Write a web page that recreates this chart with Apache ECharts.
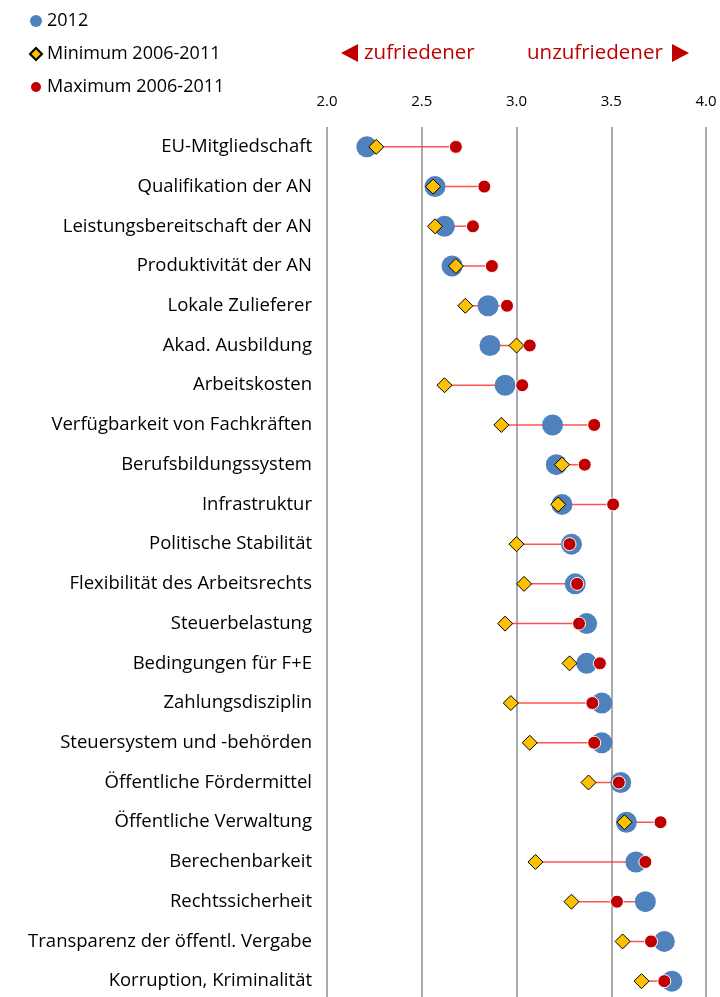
<!DOCTYPE html>
<html>
<head>
<meta charset="utf-8">
<script src="https://cdn.jsdelivr.net/npm/echarts@6/dist/echarts.min.js"></script>
<style>
  html, body { margin: 0; padding: 0; background: #fff; overflow: hidden; }
  #chart { width: 720px; height: 1001px; }
</style>
</head>
<body>
<div id="chart"></div>
<script>
// Kategorien, von oben nach unten
const categories = [
  "EU-Mitgliedschaft",
  "Qualifikation der AN",
  "Leistungsbereitschaft der AN",
  "Produktivität der AN",
  "Lokale Zulieferer",
  "Akad. Ausbildung",
  "Arbeitskosten",
  "Verfügbarkeit von Fachkräften",
  "Berufsbildungssystem",
  "Infrastruktur",
  "Politische Stabilität",
  "Flexibilität des Arbeitsrechts",
  "Steuerbelastung",
  "Bedingungen für F+E",
  "Zahlungsdisziplin",
  "Steuersystem und -behörden",
  "Öffentliche Fördermittel",
  "Öffentliche Verwaltung",
  "Berechenbarkeit",
  "Rechtssicherheit",
  "Transparenz der öffentl. Vergabe",
  "Korruption, Kriminalität"
]

const values2012 = [2.21, 2.57, 2.62, 2.66, 2.85, 2.86, 2.94, 3.19, 3.21, 3.24, 3.29, 3.31,
  3.37, 3.37, 3.45, 3.45, 3.55, 3.58, 3.63, 3.68, 3.78, 3.82]
const valuesMin = [2.26, 2.56, 2.57, 2.68, 2.73, 3.00, 2.62, 2.92, 3.24, 3.22, 3.00, 3.04,
  2.94, 3.28, 2.97, 3.07, 3.38, 3.57, 3.10, 3.29, 3.56, 3.66]
const valuesMax = [2.68, 2.83, 2.77, 2.87, 2.95, 3.07, 3.03, 3.41, 3.36, 3.51, 3.28, 3.32,
  3.33, 3.44, 3.40, 3.41, 3.54, 3.76, 3.68, 3.53, 3.71, 3.78]

const axisTicks = [2.0, 2.5, 3.0, 3.5, 4.0]

const FONT = "Open Sans"

// Verbindungslinie von kleinstem bis größtem Wert je Zeile
const spanData = categories.map((c, i) => {
  const vals = [values2012[i], valuesMin[i], valuesMax[i]]
  return [Math.min(...vals), Math.max(...vals), i]
})

const chart = echarts.init(document.getElementById("chart"), null, { renderer: "canvas" })

const option = {
  animation: false,
  textStyle: { fontFamily: FONT },
  grid: { left: 327, right: 14, top: 127, bottom: 0, containLabel: false },
  legend: {
    orient: "vertical",
    left: 24,
    top: 6,
    itemWidth: 12,
    itemHeight: 12,
    itemGap: 13,
    textStyle: { fontFamily: FONT, fontSize: 18, color: "#000", lineHeight: 20 },
    data: [
      { name: "2012", icon: "circle" },
      { name: "Minimum 2006-2011", icon: "diamond" },
      { name: "Maximum 2006-2011", icon: "circle" }
    ]
  },
  xAxis: {
    type: "value",
    position: "top",
    min: axisTicks[0],
    max: axisTicks[axisTicks.length - 1],
    interval: 0.5,
    axisLine: { show: false },
    axisTick: { show: false },
    axisLabel: {
      margin: 18,
      fontFamily: FONT,
      fontSize: 15,
      color: "#000",
      formatter: (v) => v.toFixed(1)
    },
    splitLine: { show: true, lineStyle: { color: "#8c8c8c", width: 1.5 } }
  },
  yAxis: {
    type: "category",
    inverse: true,
    data: categories,
    axisLine: { show: false },
    axisTick: { show: false },
    splitLine: { show: false },
    axisLabel: { margin: 15, fontFamily: FONT, fontSize: 18.5, color: "#000" }
  },
  graphic: [
    {
      type: "polygon",
      shape: { points: [[341, 53], [358, 44], [358, 62]] },
      style: { fill: "#c00000" }
    },
    {
      type: "text",
      left: 364,
      top: 43,
      style: { text: "zufriedener", fill: "#c00000", font: "20.5px " + FONT }
    },
    {
      type: "text",
      left: 527,
      top: 43,
      style: { text: "unzufriedener", fill: "#c00000", font: "20.5px " + FONT }
    },
    {
      type: "polygon",
      shape: { points: [[689, 53], [672, 44], [672, 62]] },
      style: { fill: "#c00000" }
    }
  ],
  series: [
    {
      type: "custom",
      name: "span",
      z: 1,
      silent: true,
      encode: { x: [0, 1], y: 2 },
      data: spanData,
      renderItem: (params, api) => {
        const a = api.coord([api.value(0), api.value(2)])
        const b = api.coord([api.value(1), api.value(2)])
        return {
          type: "line",
          shape: { x1: a[0], y1: a[1], x2: b[0], y2: b[1] },
          style: { stroke: "rgba(255,40,40,0.8)", lineWidth: 1.5 }
        }
      }
    },
    {
      type: "scatter",
      name: "2012",
      z: 2,
      symbol: "circle",
      symbolSize: 21,
      itemStyle: { color: "#4f81bd", opacity: 1 },
      data: categories.map((c, i) => [values2012[i], i])
    },
    {
      type: "scatter",
      name: "Maximum 2006-2011",
      z: 3,
      symbol: "circle",
      symbolSize: 13,
      itemStyle: { color: "#c00000", borderColor: "#fff", borderWidth: 1, opacity: 1 },
      data: categories.map((c, i) => [valuesMax[i], i])
    },
    {
      type: "scatter",
      name: "Minimum 2006-2011",
      z: 4,
      symbol: "diamond",
      symbolSize: 15,
      itemStyle: { color: "#ffc000", borderColor: "#000", borderWidth: 1, opacity: 1 },
      data: categories.map((c, i) => [valuesMin[i], i])
    }
  ]
}

chart.setOption(option)
</script>
</body>
</html>
